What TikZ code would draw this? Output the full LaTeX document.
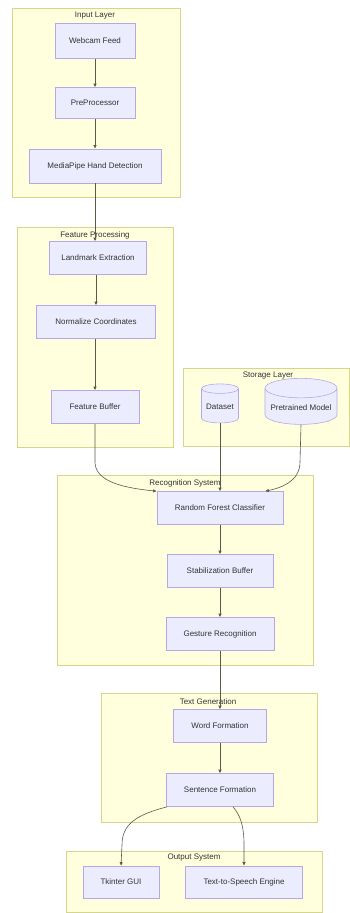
\documentclass[tikz,border=0pt]{standalone}
\usepackage{fontspec}
\setmainfont{Liberation Sans}
\usetikzlibrary{arrows.meta,shapes.geometric,positioning}
\definecolor{groupfill}{HTML}{FFFFDE}
\definecolor{groupborder}{HTML}{D6D68A}
\definecolor{nodefill}{HTML}{ECECFF}
\definecolor{nodeborder}{HTML}{B5A8E6}
\definecolor{edgegray}{HTML}{5A5A4A}
\definecolor{textgray}{HTML}{333333}
\tikzset{
  every picture/.style={line width=0.6pt},
  block/.style={draw=nodeborder, fill=nodefill, minimum height=33pt, inner sep=2pt,
    font=\fontsize{8}{9.5}\selectfont, text=textgray},
  store/.style={cylinder, shape border rotate=90, aspect=0.3, draw=nodeborder, fill=nodefill,
    inner sep=2pt, font=\fontsize{8}{9.5}\selectfont, text=textgray},
  group/.style={draw=groupborder, fill=groupfill, line width=0.5pt},
  grouplabel/.style={font=\fontsize{8}{9.5}\selectfont, text=textgray},
  flow/.style={draw=edgegray, line width=0.6pt, -{Latex[length=3.5pt,width=3.5pt]}},
}

\begin{document}
\begin{tikzpicture}[x=1pt, y=-1pt]
    \useasboundingbox (0,0) rectangle (350,913);

    % 分组框
    \draw[group] (12,8) rectangle (180,197);
    \node[grouplabel] (inputlbl) at (95,16) {Input Layer};
    \draw[group] (17,227) rectangle (173,447);
    \node[grouplabel] (featlbl) at (95,235) {Feature Processing};
    \draw[group] (183,368) rectangle (349,446);
    \node[grouplabel] (storelbl) at (268,376) {Storage Layer};
    \draw[group] (57,475) rectangle (313,665);
    \node[grouplabel] (recoglbl) at (185,483) {Recognition System};
    \draw[group] (101,693) rectangle (317,822);
    \node[grouplabel] (textlbl) at (208,702) {Text Generation};
    \draw[group] (66,851) rectangle (322,912);
    \node[grouplabel] (outlbl) at (194,858) {Output System};

    % 输入层
    \node[block, minimum width=80pt, minimum height=35pt] (cam) at (95,41) {Webcam Feed};
    \node[block, minimum width=80pt, minimum height=31pt] (prep) at (95,103) {PreProcessor};
    \node[block, minimum width=132pt, minimum height=34pt] (hand) at (95,166) {MediaPipe Hand Detection};

    % 特征处理
    \node[block, minimum width=97pt] (lmk) at (98,258) {Landmark Extraction};
    \node[block, minimum width=119pt] (norm) at (96,322) {Normalize Coordinates};
    \node[block, minimum width=88pt] (fbuf) at (95,407) {Feature Buffer};

    % 存储层
    \node[store, minimum width=37pt, minimum height=39pt] (data) at (220,407) {Dataset};
    \node[store, minimum width=72pt, minimum height=46pt] (model) at (301,408) {Pretrained Model};

    % 识别系统
    \node[block, minimum width=126pt] (rfc) at (220,508) {Random Forest Classifier};
    \node[block, minimum width=106pt] (stab) at (220,571) {Stabilization Buffer};
    \node[block, minimum width=108pt] (gest) at (220,634) {Gesture Recognition};

    % 文本生成
    \node[block, minimum width=93pt] (word) at (220,726) {Word Formation};
    \node[block, minimum width=107pt] (sent) at (220,790) {Sentence Formation};

    % 输出
    \node[block, minimum width=76pt, minimum height=32pt] (gui) at (121,882) {Tkinter GUI};
    \node[block, minimum width=117pt, minimum height=32pt] (tts) at (244,882) {Text-to-Speech Engine};

    % 连线
    \draw[flow] (cam) -- (prep);
    \draw[flow] (prep) -- (hand);
    \draw[flow] (hand) -- (lmk.north -| hand.south);
    \draw[flow] (lmk.south -| norm.north) -- (norm);
    \draw[flow] (norm.south -| fbuf.north) -- (fbuf);
    \draw[flow] (fbuf.south) -- (95,462) .. controls (95,482) and (125,488) .. (rfc.north west);
    \draw[flow] (data.south) -- (rfc.north -| data.south);
    \draw[flow] (model.south) -- (300,462) .. controls (300,482) and (280,488) .. ([xshift=-18pt]rfc.north east);
    \draw[flow] (rfc) -- (stab);
    \draw[flow] (stab) -- (gest);
    \draw[flow] (gest) -- (word);
    \draw[flow] (word) -- (sent);
    \draw[flow] ([xshift=1pt]sent.south west) .. controls (135,815) and (122,825) .. (122,845) -- (gui.north);
    \draw[flow] ([xshift=13pt]sent.south) .. controls (240,815) and (244,825) .. (244,845) -- (tts.north);
\end{tikzpicture}
\end{document}
